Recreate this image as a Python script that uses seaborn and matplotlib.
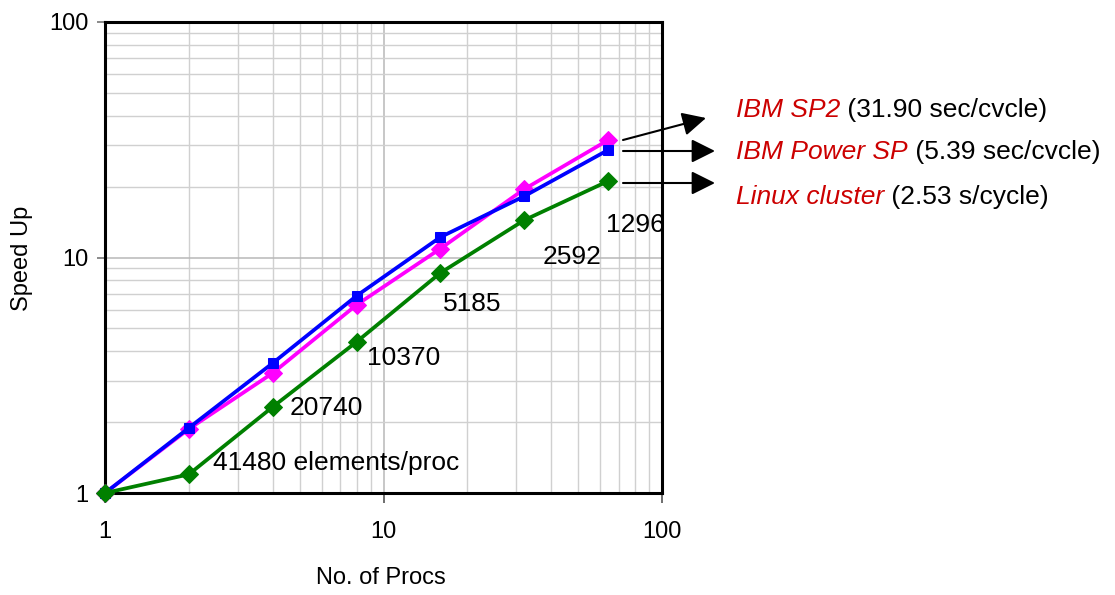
import matplotlib
matplotlib.use("Agg")
import matplotlib.pyplot as plt
import seaborn as sns
import pandas as pd
import numpy as np

procs = [1, 2, 4, 8, 16, 32, 64]
ibm_sp2 = [1.0, 1.87, 3.23, 6.29, 10.9, 19.5, 31.5]
ibm_power_sp = [1.0, 1.89, 3.56, 6.87, 12.2, 18.2, 28.6]
linux_cluster = [1.0, 1.2, 2.32, 4.38, 8.6, 14.4, 21.1]

elem_labels = ["41480 elements/proc", "20740", "10370", "5185", "2592", "1296"]
elem_x = [2.44, 4.62, 8.73, 16.4, 37.4, 62.9]
elem_y = [1.34, 2.30, 3.74, 6.35, 10.05, 13.7]

legend_names = ["IBM SP2", "IBM Power SP", "Linux cluster"]
legend_info = [" (31.90 sec/cvcle)", " (5.39 sec/cvcle)", " (2.53 s/cycle)"]

sns.set_theme(style="white")
plt.rcParams["font.family"] = ["Liberation Sans", "DejaVu Sans"]
plt.rcParams["text.color"] = "black"
plt.rcParams["axes.labelcolor"] = "black"
plt.rcParams["xtick.color"] = "black"
plt.rcParams["ytick.color"] = "black"

W, H = 1115, 595
fig = plt.figure(figsize=(W / 100, H / 100), dpi=100)
ax = fig.add_axes([105 / W, 1 - 493 / H, (662 - 105) / W, (493 - 22) / H])

series = [
    (ibm_sp2, "#FF00FF", "D", 9),
    (ibm_power_sp, "#0000FF", "s", 7),
    (linux_cluster, "#008000", "D", 9),
]
for vals, col, mk, ms in series:
    df = pd.DataFrame({"procs": procs, "speedup": vals})
    sns.lineplot(data=df, x="procs", y="speedup", ax=ax, color=col, marker=mk,
                 markersize=ms, markeredgecolor=col, linewidth=2.7, zorder=3,
                 clip_on=False)

ax.set_xscale("log")
ax.set_yscale("log")
ax.set_xlim(1, 100)
ax.set_ylim(1, 100)
ax.set_xticks([1, 10, 100])
ax.set_xticklabels(["1", "10", "100"])
ax.set_yticks([1, 10, 100])
ax.set_yticklabels(["1", "10", "100"])
ax.grid(True, which="major", color="#b8b8b8", linewidth=1.1)
ax.grid(True, which="minor", color="#d0d0d0", linewidth=1.0)
ax.minorticks_on()
ax.tick_params(which="minor", length=0)
ax.tick_params(axis="x", which="major", direction="out", length=7, width=1.2,
               color="#555555", labelcolor="black", pad=13, labelsize=17, bottom=True)
ax.tick_params(axis="y", which="major", direction="out", length=6, width=1.2,
               color="#777777", labelcolor="black", pad=6, labelsize=17, left=True)
for s in ax.spines.values():
    s.set_color("black")
    s.set_linewidth(2.2)
ax.set_xlabel("No. of Procs", fontsize=17, color="black")
ax.set_ylabel("Speed Up", fontsize=17, color="black")
ax.xaxis.label.set_va("center")
ax.yaxis.label.set_va("center")
ax.xaxis.set_label_coords((381 - 105) / (662 - 105), -(578 - 493) / (493 - 22))
ax.yaxis.set_label_coords(-(105 - 22) / (662 - 105), (493 - 258) / (493 - 22))

for lab, x, y in zip(elem_labels, elem_x, elem_y):
    ax.text(x, y, lab, fontsize=19, ha="left", va="center", color="black", zorder=4)

def fp(px, py):
    return (px / W, 1 - py / H)

arrows = [((623, 140), (706, 118)), ((623, 151), (715, 151)), ((623, 183), (715, 183))]
for (a, b) in arrows:
    fig.add_artist(matplotlib.patches.FancyArrowPatch(
        fp(*a), fp(*b), transform=fig.transFigure, arrowstyle="-|>",
        mutation_scale=36, color="black", linewidth=1.5, shrinkA=0, shrinkB=0))

text_y = [110, 152, 197]
fig.canvas.draw()
renderer = fig.canvas.get_renderer()
for name, info, ty in zip(legend_names, legend_info, text_y):
    t1 = fig.text(736 / W, 1 - ty / H, name, fontsize=19, style="italic",
                  color="#CC0000", ha="left", va="center")
    bb = t1.get_window_extent(renderer=renderer)
    fig.text(bb.x1 / W, 1 - ty / H, info, fontsize=19, color="black",
             ha="left", va="center")

fig.savefig("out.png", dpi=100)
